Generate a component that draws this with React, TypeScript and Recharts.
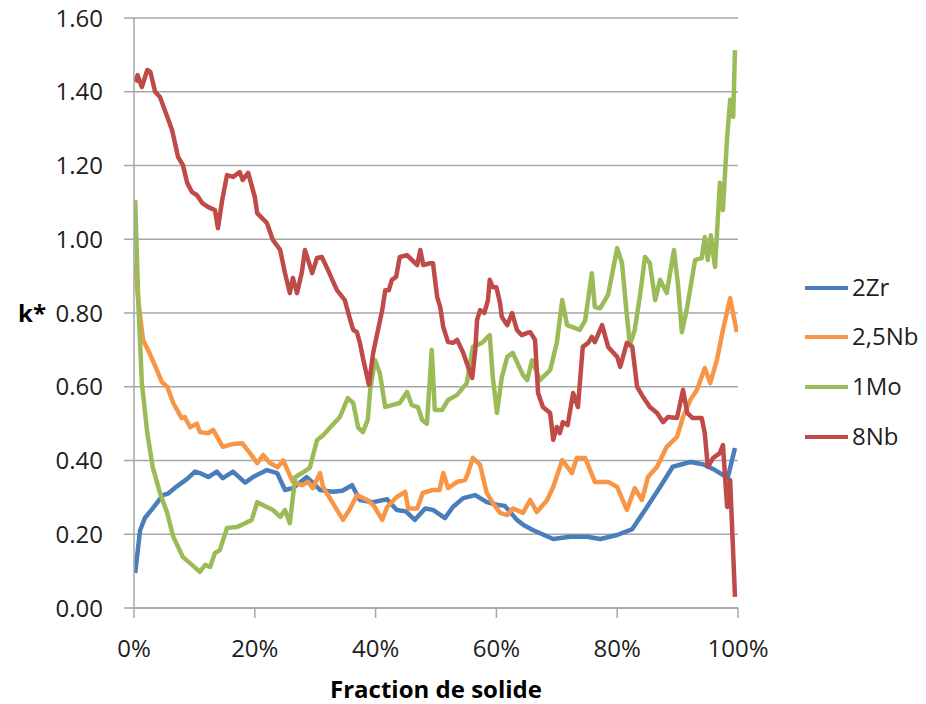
import React from "react";
import { LineChart, Line, XAxis, YAxis, CartesianGrid, Legend } from "recharts";

const xTicks = [0, 20, 40, 60, 80, 100];
const yTicks = [0, 0.2, 0.4, 0.6, 0.8, 1.0, 1.2, 1.4, 1.6];

const zr2: [number, number][] = [
  [0.2,0.095],[1.0,0.21],[1.8,0.244],[3.1,0.27],[3.8,0.285],[4.8,0.306],[5.6,0.31],[7.1,0.33],[8.8,0.35],[10.1,0.37],[10.9,0.366],[12.3,0.355],[13.7,0.37],[14.7,0.352],[16.4,0.37],[18.4,0.34],[19.7,0.355],[22.0,0.374],[23.7,0.366],[25.0,0.32],[26.3,0.325],[28.6,0.355],[29.6,0.34],[30.8,0.32],[32.9,0.315],[34.5,0.318],[36.1,0.333],[37.4,0.293],[39.6,0.287],[41.9,0.295],[43.5,0.266],[45.0,0.262],[46.5,0.239],[48.2,0.27],[49.5,0.266],[51.5,0.244],[52.8,0.274],[54.5,0.298],[56.5,0.306],[58.4,0.287],[60.1,0.28],[61.4,0.277],[63.4,0.239],[64.5,0.225],[66.1,0.211],[69.4,0.187],[72.2,0.193],[75.0,0.193],[77.2,0.187],[80.0,0.198],[82.5,0.214],[84.3,0.258],[87.1,0.328],[89.2,0.383],[92.1,0.396],[94.2,0.39],[96.2,0.374],[98.3,0.353],[99.5,0.434]
];

const nb25: [number, number][] = [
  [0.2,0.935],[0.7,0.835],[1.5,0.727],[2.6,0.69],[3.8,0.645],[4.6,0.613],[5.5,0.6],[6.5,0.556],[7.9,0.515],[8.4,0.518],[9.3,0.49],[10.4,0.50],[10.9,0.477],[12.3,0.474],[13.1,0.483],[14.7,0.437],[16.4,0.445],[17.9,0.447],[19.2,0.42],[20.4,0.393],[21.4,0.415],[22.5,0.393],[23.8,0.382],[24.7,0.40],[26.3,0.342],[27.8,0.333],[28.8,0.342],[29.6,0.325],[30.8,0.366],[31.3,0.328],[32.9,0.285],[34.6,0.239],[35.8,0.27],[36.9,0.306],[38.6,0.293],[39.6,0.28],[41.1,0.239],[41.9,0.274],[43.5,0.301],[44.9,0.315],[45.4,0.27],[46.9,0.27],[47.8,0.312],[49.5,0.32],[50.6,0.32],[51.2,0.366],[52.0,0.325],[53.5,0.342],[54.8,0.347],[55.3,0.366],[56.1,0.407],[57.3,0.388],[58.4,0.312],[59.4,0.285],[60.6,0.258],[61.8,0.252],[62.7,0.27],[64.4,0.258],[65.6,0.293],[66.7,0.26],[68.4,0.293],[69.4,0.328],[70.9,0.401],[72.5,0.366],[73.3,0.407],[74.7,0.407],[76.3,0.342],[78.5,0.342],[80.0,0.328],[81.6,0.266],[82.9,0.325],[84.1,0.293],[85.1,0.355],[86.6,0.383],[88.2,0.437],[89.9,0.464],[90.9,0.518],[92.1,0.564],[93.2,0.591],[94.5,0.651],[95.4,0.61],[96.5,0.672],[97.5,0.754],[98.7,0.84],[99.8,0.748]
];

const mo1: [number, number][] = [
  [0.2,1.106],[0.7,0.835],[1.3,0.61],[2.2,0.474],[3.1,0.382],[4.3,0.312],[5.5,0.258],[6.5,0.193],[8.1,0.138],[9.6,0.117],[10.9,0.098],[11.8,0.117],[12.6,0.111],[13.4,0.149],[14.2,0.157],[15.4,0.217],[17.1,0.22],[18.4,0.23],[19.5,0.239],[20.4,0.287],[22.0,0.274],[23.0,0.266],[24.2,0.247],[25.0,0.266],[25.8,0.23],[26.7,0.355],[27.8,0.366],[29.1,0.38],[30.3,0.455],[31.4,0.47],[32.5,0.49],[34.1,0.518],[35.4,0.569],[36.3,0.556],[37.1,0.49],[37.9,0.477],[38.7,0.51],[39.1,0.591],[39.9,0.672],[40.7,0.637],[41.6,0.545],[42.7,0.55],[44.0,0.556],[45.2,0.586],[46.0,0.55],[47.0,0.545],[47.7,0.51],[48.5,0.50],[49.3,0.70],[49.8,0.537],[51.0,0.537],[52.0,0.564],[53.5,0.578],[55.1,0.61],[56.1,0.708],[57.6,0.719],[58.9,0.74],[59.4,0.626],[60.1,0.529],[60.9,0.626],[61.8,0.681],[62.7,0.692],[64.4,0.632],[65.1,0.618],[65.9,0.672],[67.2,0.618],[68.9,0.645],[70.0,0.719],[70.9,0.835],[71.7,0.767],[73.8,0.754],[74.7,0.78],[75.8,0.908],[76.3,0.816],[77.2,0.813],[78.5,0.85],[80.0,0.976],[80.8,0.935],[81.4,0.827],[82.1,0.713],[82.9,0.754],[83.8,0.85],[84.6,0.952],[85.4,0.935],[86.3,0.835],[87.1,0.89],[88.2,0.854],[89.4,0.971],[90.1,0.871],[90.7,0.748],[91.5,0.808],[92.9,0.944],[94.0,0.949],[94.5,1.006],[95.0,0.944],[95.5,1.011],[96.2,0.925],[97.0,1.153],[97.5,1.079],[98.2,1.277],[98.7,1.378],[99.2,1.332],[99.5,1.513]
];

const nb8: [number, number][] = [
  [0.2,1.426],[0.6,1.445],[1.3,1.413],[2.2,1.459],[2.7,1.454],[3.5,1.40],[4.3,1.386],[5.5,1.332],[6.3,1.296],[7.3,1.223],[8.1,1.201],[8.8,1.153],[9.6,1.128],[10.4,1.12],[11.3,1.098],[12.3,1.087],[13.4,1.079],[13.9,1.03],[14.6,1.106],[15.4,1.174],[16.4,1.169],[17.5,1.182],[18.0,1.161],[18.9,1.18],[20.0,1.115],[20.4,1.071],[22.0,1.044],[23.0,0.998],[24.2,0.971],[25.0,0.908],[25.8,0.854],[26.3,0.895],[27.0,0.854],[27.8,0.911],[28.3,0.971],[29.5,0.908],[30.3,0.949],[31.1,0.952],[32.1,0.917],[33.6,0.862],[34.9,0.835],[35.8,0.781],[36.3,0.754],[36.9,0.748],[37.4,0.719],[37.9,0.678],[38.9,0.605],[39.6,0.692],[40.4,0.754],[41.1,0.808],[41.6,0.862],[42.2,0.862],[42.7,0.89],[43.4,0.898],[44.0,0.952],[45.2,0.957],[46.0,0.944],[46.9,0.93],[47.4,0.971],[47.9,0.93],[49.0,0.935],[49.5,0.935],[50.2,0.843],[50.7,0.816],[51.2,0.762],[52.0,0.721],[52.8,0.719],[53.5,0.727],[54.5,0.692],[55.3,0.654],[56.0,0.624],[56.5,0.70],[56.8,0.781],[57.3,0.808],[58.0,0.80],[58.6,0.835],[58.9,0.89],[59.4,0.87],[60.0,0.87],[60.6,0.827],[60.9,0.789],[61.8,0.767],[62.6,0.80],[63.4,0.754],[64.2,0.74],[65.1,0.746],[65.6,0.748],[66.4,0.727],[66.9,0.583],[67.7,0.545],[68.9,0.529],[69.4,0.456],[70.0,0.491],[70.5,0.474],[71.0,0.504],[71.8,0.496],[72.7,0.583],[73.5,0.545],[74.3,0.708],[75.2,0.719],[75.8,0.735],[76.3,0.721],[77.5,0.767],[78.5,0.708],[80.0,0.681],[80.5,0.654],[81.6,0.719],[82.5,0.708],[83.3,0.60],[84.3,0.572],[85.4,0.545],[86.6,0.529],[87.6,0.504],[88.4,0.518],[89.9,0.515],[90.9,0.591],[91.6,0.529],[92.5,0.515],[94.0,0.515],[94.5,0.474],[95.0,0.383],[95.9,0.407],[97.0,0.42],[97.5,0.442],[98.2,0.274],[98.7,0.347],[99.5,0.03]
];

const seriesNames = ["2Zr", "2,5Nb", "1Mo", "8Nb"];
const seriesColors = ["#4a7ebb", "#f79646", "#9bbb59", "#be4b48"];
const seriesData = [zr2, nb25, mo1, nb8];

const FONT = "'Open Sans', sans-serif";
const TEXT = "#1e1e1e";
const GRID = "#a6a6a6";

const toRows = (arr: [number, number][]) => arr.map(([x, y]) => ({ x, y }));

const LegendContent = () => (
  <div style={{ fontFamily: FONT, fontSize: 24, color: TEXT }}>
    {seriesNames.map((n, i) => (
      <div key={n} style={{ display: "flex", alignItems: "center", height: 49.6 }}>
        <svg width={48} height={10} style={{ marginLeft: 5 }}>
          <line x1={0} y1={5} x2={43} y2={5} stroke={seriesColors[i]} strokeWidth={4} />
        </svg>
        <span style={{ marginLeft: -1, marginTop: -3 }}>{n}</span>
      </div>
    ))}
  </div>
);

export default function App() {
  return (
    <div style={{ position: "absolute", left: 0, top: 0, width: 926, height: 704, background: "#fff" }}>
      <LineChart width={926} height={704} margin={{ top: 18, right: 188, bottom: 0, left: 0 }}>
        <CartesianGrid vertical={false} stroke={GRID} strokeWidth={1.5} />
        <XAxis
          type="number"
          dataKey="x"
          domain={[0, 100]}
          ticks={xTicks}
          tickFormatter={(v: number) => `${v}%`}
          height={96}
          stroke={GRID}
          strokeWidth={1.5}
          tickSize={10}
          tickMargin={22}
          tick={{ fill: TEXT, fontSize: 24, fontFamily: FONT }}
          allowDataOverflow
          label={{ value: "Fraction de solide", position: "insideBottom", offset: 6, fill: "#000", fontSize: 24, fontWeight: 700, fontFamily: FONT }}
        />
        <YAxis
          type="number"
          dataKey="y"
          domain={[0, 1.6]}
          ticks={yTicks}
          tickFormatter={(v: number) => v.toFixed(2)}
          width={134}
          stroke={GRID}
          strokeWidth={1.5}
          tickSize={10}
          tickMargin={21}
          tick={{ fill: TEXT, fontSize: 24, fontFamily: FONT }}
          allowDataOverflow
          label={{ value: "k*", position: "insideLeft", offset: 18, fill: "#000", fontSize: 24, fontWeight: 700, fontFamily: FONT }}
        />
        <Legend
          layout="vertical"
          align="center"
          verticalAlign="middle"
          wrapperStyle={{ left: 800, top: 263, width: 126 }}
          content={<LegendContent />}
        />
        {seriesData.map((d, i) => (
          <Line
            key={seriesNames[i]}
            name={seriesNames[i]}
            data={toRows(d)}
            dataKey="y"
            type="linear"
            stroke={seriesColors[i]}
            strokeWidth={4.5}
            strokeLinejoin="round"
            dot={false}
            activeDot={false}
            isAnimationActive={false}
          />
        ))}
      </LineChart>
    </div>
  );
}
